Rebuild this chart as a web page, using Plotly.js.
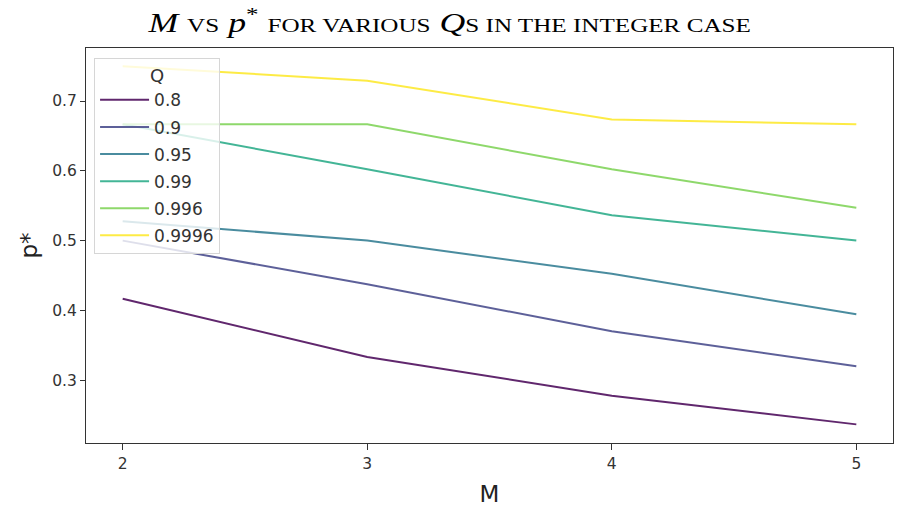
<!DOCTYPE html>
<html>
<head>
<meta charset="utf-8">
<script src="https://cdn.plot.ly/plotly-3.0.1.min.js"></script>
<style>html,body{margin:0;padding:0;background:#fff;}#chart{width:899px;height:512px;}</style>
</head>
<body>
<div id="chart"></div>
<script>
const M = [2, 3, 4, 5];
const qLabels = ["0.8", "0.9", "0.95", "0.99", "0.996", "0.9996"];
const q08 = [0.4167, 0.3333, 0.2778, 0.2367];
const q09 = [0.5000, 0.4375, 0.3700, 0.3200];
const q095 = [0.5278, 0.5000, 0.4524, 0.3944];
const q099 = [0.6667, 0.6023, 0.5365, 0.5000];
const q0996 = [0.6667, 0.6667, 0.6023, 0.5470];
const q09996 = [0.7500, 0.7292, 0.6735, 0.6667];
const colors = ["#440154", "#414487", "#2a788e", "#22a884", "#7ad151", "#fde725"];

const series = [q08, q09, q095, q099, q0996, q09996];
const traces = series.map((ys, i) => ({
  x: M, y: ys, type: "scatter", mode: "lines", name: qLabels[i],
  legendgroup: "g" + i,
  line: {color: colors[i], width: 2}, opacity: 0.85
}));

const sc = 'style="font-size:19px"';
const layout = {
  width: 899, height: 512,
  paper_bgcolor: "#fff", plot_bgcolor: "#fff",
  margin: {l: 86, r: 6, t: 48, b: 69},
  showlegend: true,
  title: {
    text: `<i>M</i> <span ${sc}>VS</span> <i>p</i><sup>*</sup> <span ${sc}>FOR VARIOUS</span> <i>Q</i><span ${sc}>S IN THE INTEGER CASE</span>`,
    font: {family: "Liberation Serif, Times New Roman, serif", size: 27, color: "#000"},
    x: 0.5, xref: "container", xanchor: "center",
    y: 0.955, yref: "container", yanchor: "middle"
  },
  xaxis: {
    range: [1.85, 5.15], tickvals: M, ticktext: M.map(String),
    showgrid: false, zeroline: false, showline: true, mirror: true,
    linecolor: "#333", linewidth: 1, ticks: "outside", ticklen: 6, tickcolor: "#333",
    tickfont: {family: "DejaVu Sans", size: 15.5, color: "#333"},
    title: {text: "M", font: {family: "DejaVu Sans", size: 23, color: "#222"}, standoff: 14}
  },
  yaxis: {
    range: [0.21, 0.776], tickvals: [0.3, 0.4, 0.5, 0.6, 0.7],
    showgrid: false, zeroline: false, showline: true, mirror: true,
    linecolor: "#333", linewidth: 1, ticks: "outside", ticklen: 5, tickcolor: "#333",
    tickfont: {family: "DejaVu Sans", size: 15.5, color: "#333"},
    title: {text: "p*", font: {family: "DejaVu Sans", size: 23, color: "#222"}, standoff: 8}
  },
  legend: {
    x: 0.01, y: 0.975, xanchor: "left", yanchor: "top",
    bgcolor: "rgba(255,255,255,0.8)", bordercolor: "#d6d6d6", borderwidth: 1,
    font: {family: "DejaVu Sans", size: 17, color: "#333"},
    title: {text: "Q", side: "top center", font: {family: "DejaVu Sans", size: 18, color: "#333"}},
    traceorder: "grouped", tracegroupgap: 2, itemwidth: 49
  }
};
Plotly.newPlot("chart", traces, layout, {displayModeBar: false, staticPlot: true}).then(gd => {
  const t = gd.querySelector(".gtitle");
  if (t) {
    const bb = t.getBBox();
    const target = 604;
    const s = target / bb.width;
    const cx = bb.x + bb.width / 2;
    t.setAttribute("transform", `translate(${cx},0) scale(${s},1) translate(${-cx},0)`);
  }
});
</script>
</body>
</html>
